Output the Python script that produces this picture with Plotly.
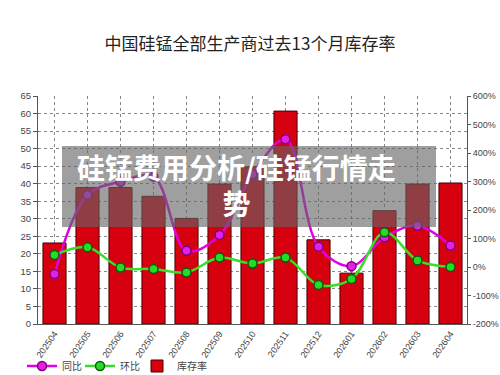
import plotly.graph_objects as go

months = ["202504", "202505", "202506", "202507", "202508", "202509", "202510",
          "202511", "202512", "202601", "202602", "202603", "202604"]
inventory_rate = [23.1, 38.9, 38.9, 36.4, 30.1, 39.9, 44.8, 60.7, 24.0, 14.5, 32.3, 39.9, 40.2]
yoy = [-25, 253, 299, 317, 57, 112, 325, 448, 71, 3, 104, 145, 75]
mom = [42, 69, -2, -7, -19, 33, 12, 33, -63, -42, 122, 23, 0]
pct_ticks = [-200, -100, 0, 100, 200, 300, 400, 500, 600]
pct_labels = ["-200%", "-100%", "0%", "100%", "200%", "300%", "400%", "500%", "600%"]

title_text = "中国硅锰全部生产商过去13个月库存率"
overlay_text = "硅锰费用分析/硅锰行情走<br>势"

font_cjk = "Noto Sans CJK SC"
font_lat = "Liberation Sans, Arial, sans-serif"

fig = go.Figure()

fig.add_trace(go.Bar(
    x=months, y=inventory_rate, name="库存率",
    marker=dict(color="#D7000F", line=dict(color="#4a0000", width=1)),
    width=0.7, yaxis="y", legend="legend3",
))
fig.add_trace(go.Scatter(
    x=months, y=yoy, name="同比", mode="lines+markers", yaxis="y2",
    line=dict(color="#E000E0", width=2.5, shape="spline", smoothing=1),
    marker=dict(size=9, color="#E81EE8", line=dict(color="#7a007a", width=1.5)),
    legend="legend",
))
fig.add_trace(go.Scatter(
    x=months, y=mom, name="环比", mode="lines+markers", yaxis="y2",
    line=dict(color="#3ADD28", width=2.5, shape="spline", smoothing=1),
    marker=dict(size=9, color="#22DD22", line=dict(color="#145514", width=1.5)),
    legend="legend2",
))

def leg(xpx):
    return dict(orientation="h", x=(xpx - 38) / 429, xanchor="left", xref="paper",
                y=1 - 366 / 375, yanchor="middle", yref="container",
                font=dict(family=font_cjk, size=10, color="#444"),
                itemwidth=30, bgcolor="rgba(0,0,0,0)")

fig.update_layout(
    width=500, height=375,
    margin=dict(l=38, r=33, t=96, b=51, autoexpand=False),
    paper_bgcolor="white", plot_bgcolor="white",
    title=dict(text=title_text, x=0.5, xanchor="center", y=1 - 44 / 375, yanchor="middle",
               yref="container", font=dict(family=font_cjk, size=17, color="#222")),
    showlegend=True,
    legend=leg(22),
    legend2=leg(80),
    legend3=leg(137),
    bargap=0.3,
    xaxis=dict(
        type="category", showgrid=True, gridcolor="#888", griddash="dot", gridwidth=1,
        tickangle=-55, tickfont=dict(family=font_lat, size=9, color="#444"),
        showline=True, linecolor="#555", linewidth=1, ticks="", range=[-0.5, 12.5],
        automargin=False,
    ),
    yaxis=dict(
        range=[0, 65], dtick=5, showgrid=True, gridcolor="#888", griddash="dot", gridwidth=1,
        showline=True, linecolor="#555", linewidth=1, ticks="outside", ticklen=4,
        tickcolor="#555", tickfont=dict(family=font_lat, size=9.5, color="#444"),
        zeroline=False, automargin=False,
    ),
    yaxis2=dict(
        range=[-200, 600], tickmode="array", tickvals=pct_ticks, ticktext=pct_labels,
        overlaying="y", side="right", showgrid=False,
        showline=True, linecolor="#555", linewidth=1, ticks="outside",
        ticklen=3, tickcolor="#555", tickfont=dict(family=font_lat, size=9, color="#444"),
        zeroline=False, automargin=False,
    ),
    shapes=[dict(type="rect", xref="paper", yref="paper",
                 x0=24 / 429, x1=398 / 429, y0=97 / 228, y1=178 / 228,
                 fillcolor="rgba(100,100,100,0.62)", line=dict(width=0), layer="above")],
    annotations=[dict(text="<b>" + overlay_text + "</b>", xref="paper", yref="paper",
                      x=198 / 429, y=139 / 228, xanchor="center", yanchor="middle",
                      showarrow=False, font=dict(family=font_cjk, size=28, color="white"))],
)

fig.write_html("out.html")
